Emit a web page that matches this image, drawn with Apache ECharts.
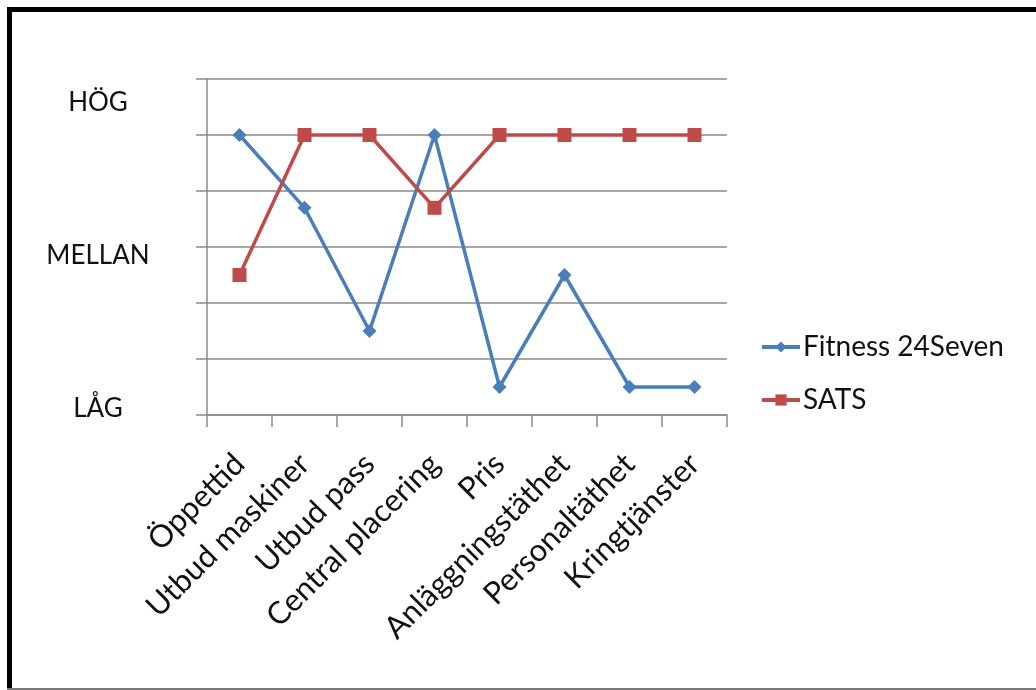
<!DOCTYPE html>
<html>
<head>
<meta charset="utf-8">
<script src="https://cdn.jsdelivr.net/npm/echarts@6/dist/echarts.min.js"></script>
<style>
html,body{margin:0;padding:0;background:#fff;}
#chart{width:1036px;height:690px;}
</style>
</head>
<body>
<div id="chart"></div>
<script>
var categories = ['Öppettid','Utbud maskiner','Utbud pass','Central placering','Pris','Anläggningstäthet','Personaltäthet','Kringtjänster'];
var fitness24Seven = [5, 3.7, 1.5, 5, 0.5, 2.5, 0.5, 0.5];
var sats = [2.5, 5, 5, 3.7, 5, 5, 5, 5];
var levelLabels = ['LÅG','MELLAN','HÖG'];
var levelValues = [0.12, 2.85, 5.58];

var chart = echarts.init(document.getElementById('chart'), null, {renderer:'canvas'});
var FONT = 'Lato';
var option = {
  animation: false,
  backgroundColor: '#ffffff',
  grid: {left: 207, right: 309, top: 79, bottom: 275, containLabel: false},
  xAxis: {
    type: 'category',
    data: categories,
    boundaryGap: true,
    axisLine: {lineStyle: {color: '#8a8a8a', width: 1.5}},
    axisTick: {show: true, length: 12, alignWithLabel: false, lineStyle: {color: '#8a8a8a', width: 1.5}},
    axisLabel: {interval: 0, rotate: 45, margin: 44, color: '#111', fontFamily: FONT, fontSize: 31}
  },
  yAxis: {
    type: 'value',
    min: 0, max: 6, interval: 1,
    axisLine: {show: true, lineStyle: {color: '#8a8a8a', width: 1.5}},
    axisTick: {show: true, length: 11, lineStyle: {color: '#8a8a8a', width: 1.5}},
    splitLine: {show: true, lineStyle: {color: '#8a8a8a', width: 1.5}},
    axisLabel: {
      customValues: levelValues,
      align: 'center',
      margin: 109,
      color: '#111', fontFamily: FONT, fontSize: 26,
      formatter: function (v) {
        var best = 0, d = 1e9;
        for (var i = 0; i < levelValues.length; i++) {
          var dd = Math.abs(levelValues[i] - v);
          if (dd < d) { d = dd; best = i; }
        }
        return levelLabels[best];
      }
    }
  },
  legend: {
    orient: 'vertical',
    left: 755, top: 328,
    itemWidth: 38, itemHeight: 14, itemGap: 25,
    lineStyle: {width: 4},
    textStyle: {color: '#111', fontFamily: FONT, fontSize: 28, padding: [0,0,0,-2]},
    data: ['Fitness 24Seven', 'SATS']
  },
  series: [
    {
      name: 'Fitness 24Seven', type: 'line', data: fitness24Seven,
      symbol: 'diamond', symbolSize: 14,
      itemStyle: {color: '#4A7EBB'},
      lineStyle: {color: '#4A7EBB', width: 3.5}
    },
    {
      name: 'SATS', type: 'line', data: sats,
      symbol: 'rect', symbolSize: 14,
      itemStyle: {color: '#BE4B48'},
      lineStyle: {color: '#BE4B48', width: 3.5}
    }
  ],
  graphic: [
    {type: 'rect', shape: {x: 7, y: 7, width: 1029, height: 5}, style: {fill: '#000'}},
    {type: 'rect', shape: {x: 7, y: 7, width: 5, height: 683}, style: {fill: '#000'}},
    {type: 'rect', shape: {x: 7, y: 688, width: 1029, height: 2}, style: {fill: '#7a7a7a'}}
  ]
};
chart.setOption(option);
</script>
</body>
</html>
